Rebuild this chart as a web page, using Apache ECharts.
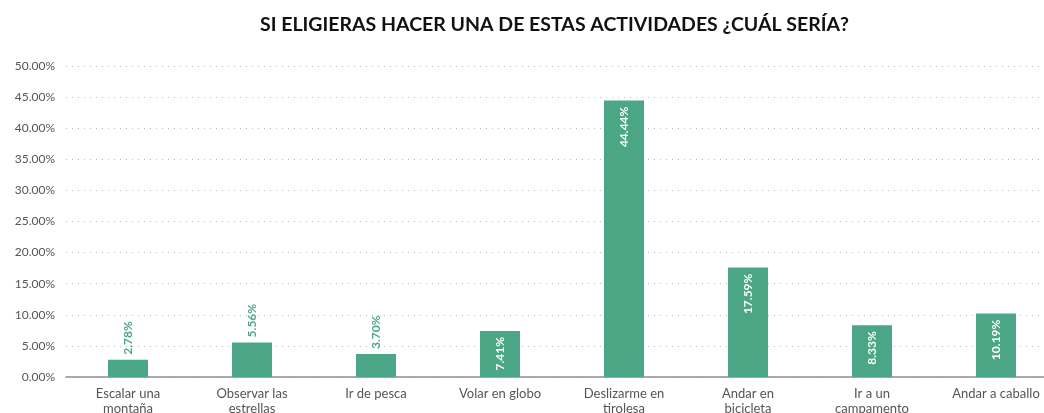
<!DOCTYPE html>
<html>
<head>
<meta charset="utf-8">
<script src="https://cdn.jsdelivr.net/npm/echarts@6/dist/echarts.min.js"></script>
<style>
  html, body { margin: 0; padding: 0; background: #fff; }
  #chart { width: 1044px; height: 413px; }
</style>
</head>
<body>
<div id="chart"></div>
<script>
const categories = [
  'Escalar una\nmontaña',
  'Observar las\nestrellas',
  'Ir de pesca',
  'Volar en globo',
  'Deslizarme en\ntirolesa',
  'Andar en\nbicicleta',
  'Ir a un\ncampamento',
  'Andar a caballo'
]
const values = [2.78, 5.56, 3.70, 7.41, 44.44, 17.59, 8.33, 10.19]
const yTicks = [0, 5, 10, 15, 20, 25, 30, 35, 40, 45, 50]

const barColor = '#4aa684'
const font = 'Lato, "Open Sans", sans-serif'

// short bars get their label above, tall ones inside
const barData = values.map((v) => {
  const outside = v < 6
  return {
    value: v,
    label: outside
      ? { position: 'top', align: 'left', color: barColor, distance: 5 }
      : { position: 'insideTop', align: 'right', color: '#ffffff', distance: 6 }
  }
})

const myChart = echarts.init(document.getElementById('chart'))

const option = {
  animation: false,
  title: {
    text: 'SI ELIGIERAS HACER UNA DE ESTAS ACTIVIDADES ¿CUÁL SERÍA?',
    left: 255,
    top: 10,
    textStyle: {
      fontFamily: font,
      fontSize: 19.5,
      fontWeight: 'bold',
      color: '#111111'
    }
  },
  grid: {
    left: 66,
    right: -14,
    top: 66,
    bottom: 36,
    outerBoundsMode: 'none'
  },
  xAxis: {
    type: 'category',
    data: categories,
    axisTick: { show: false },
    axisLine: { lineStyle: { color: '#8a9096', width: 1.5 } },
    axisLabel: {
      interval: 0,
      margin: 9,
      color: '#555555',
      fontFamily: font,
      fontSize: 13,
      lineHeight: 15
    }
  },
  yAxis: {
    type: 'value',
    min: yTicks[0],
    max: yTicks[yTicks.length - 1],
    interval: 5,
    axisLine: { show: false },
    axisTick: { show: false },
    axisLabel: {
      margin: 11,
      color: '#555555',
      fontFamily: font,
      fontSize: 12,
      formatter: (v) => v.toFixed(2) + '%'
    },
    splitLine: {
      lineStyle: { color: '#bdbdbd', type: [1, 5], width: 1 }
    }
  },
  series: [
    {
      type: 'bar',
      data: barData,
      barWidth: 40,
      itemStyle: { color: barColor },
      label: {
        show: true,
        rotate: 90,
        verticalAlign: 'middle',
        fontFamily: font,
        fontSize: 12,
        fontWeight: 'bold',
        formatter: (p) => p.value.toFixed(2) + '%'
      }
    }
  ]
}

option && myChart.setOption(option)
</script>
</body>
</html>
